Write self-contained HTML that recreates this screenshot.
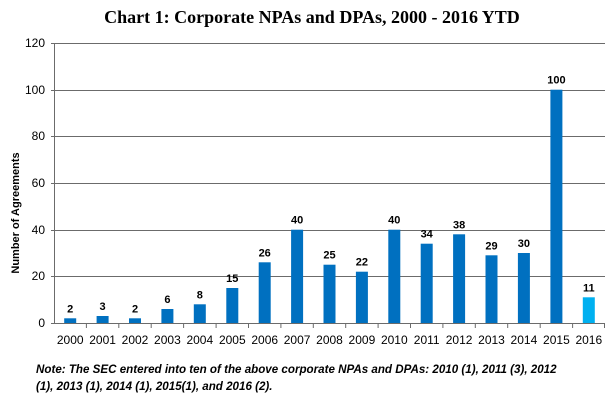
<!DOCTYPE html>
<html><head><meta charset="utf-8"><style>
body{margin:0;background:#fff;width:613px;height:405px;overflow:hidden}
</style></head><body>
<svg width="613" height="405" xmlns="http://www.w3.org/2000/svg" font-family="Liberation Sans, sans-serif">
<text x="312" y="23" text-anchor="middle" font-family="Liberation Serif, serif" font-weight="bold" font-size="18">Chart 1: Corporate NPAs and DPAs, 2000 - 2016 YTD</text>
<g stroke="#6b6b6b" stroke-width="1">
<line x1="51" y1="43.5" x2="605" y2="43.5"/>
<line x1="51" y1="90.5" x2="605" y2="90.5"/>
<line x1="51" y1="136.5" x2="605" y2="136.5"/>
<line x1="51" y1="183.5" x2="605" y2="183.5"/>
<line x1="51" y1="230.5" x2="605" y2="230.5"/>
<line x1="51" y1="276.5" x2="605" y2="276.5"/>
<line x1="51" y1="323.5" x2="605" y2="323.5"/>
<line x1="54.5" y1="43" x2="54.5" y2="323"/>
<path d="M86.4 323v5M118.8 323v5M151.2 323v5M183.6 323v5M216.1 323v5M248.5 323v5M280.9 323v5M313.3 323v5M345.7 323v5M378.1 323v5M410.5 323v5M442.9 323v5M475.3 323v5M507.7 323v5M540.2 323v5M572.6 323v5M604.5 323v5"/>
</g>
<g font-size="12" text-anchor="end" fill="#000">
<text x="45" y="47">120</text><text x="45" y="94">100</text><text x="45" y="140">80</text>
<text x="45" y="187">60</text><text x="45" y="234">40</text><text x="45" y="280">20</text><text x="45" y="327">0</text>
</g>
<text transform="translate(19,213) rotate(-90)" text-anchor="middle" font-size="11" font-weight="bold">Number of Agreements</text>
<g fill="#0070C0">
<rect x="64.2" y="318.3" width="12" height="4.7"/>
<rect x="96.6" y="316" width="12" height="7"/>
<rect x="129" y="318.3" width="12" height="4.7"/>
<rect x="161.4" y="309" width="12" height="14"/>
<rect x="193.8" y="304.3" width="12" height="18.7"/>
<rect x="226.3" y="288" width="12" height="35"/>
<rect x="258.7" y="262.3" width="12" height="60.7"/>
<rect x="291.1" y="229.7" width="12" height="93.3"/>
<rect x="323.5" y="264.7" width="12" height="58.3"/>
<rect x="355.9" y="271.7" width="12" height="51.3"/>
<rect x="388.3" y="229.7" width="12" height="93.3"/>
<rect x="420.7" y="243.7" width="12" height="79.3"/>
<rect x="453.1" y="234.3" width="12" height="88.7"/>
<rect x="485.5" y="255.3" width="12" height="67.7"/>
<rect x="517.9" y="253" width="12" height="70"/>
<rect x="550.4" y="89.7" width="12" height="233.3"/>
<rect x="582.8" y="297.3" width="12" height="25.7" fill="#00B0F0"/>
</g>
<g font-size="11" font-weight="bold" text-anchor="middle">
<text x="70.2" y="312.3">2</text><text x="102.6" y="310">3</text><text x="135" y="312.3">2</text>
<text x="167.4" y="303">6</text><text x="199.8" y="298.3">8</text><text x="232.3" y="282">15</text>
<text x="264.7" y="256.3">26</text><text x="297.1" y="223.7">40</text><text x="329.5" y="258.7">25</text>
<text x="361.9" y="265.7">22</text><text x="394.3" y="223.7">40</text><text x="426.7" y="237.7">34</text>
<text x="459.1" y="228.3">38</text><text x="491.5" y="249.3">29</text><text x="523.9" y="247">30</text>
<text x="556.4" y="83.7">100</text><text x="588.8" y="291.3">11</text>
</g>
<g font-size="12" text-anchor="middle">
<text x="70.2" y="344">2000</text><text x="102.6" y="344">2001</text><text x="135" y="344">2002</text>
<text x="167.4" y="344">2003</text><text x="199.8" y="344">2004</text><text x="232.3" y="344">2005</text>
<text x="264.7" y="344">2006</text><text x="297.1" y="344">2007</text><text x="329.5" y="344">2008</text>
<text x="361.9" y="344">2009</text><text x="394.3" y="344">2010</text><text x="426.7" y="344">2011</text>
<text x="459.1" y="344">2012</text><text x="491.5" y="344">2013</text><text x="523.9" y="344">2014</text>
<text x="556.4" y="344">2015</text><text x="588.8" y="344">2016</text>
</g>
<g font-size="11.6" font-weight="bold" font-style="italic">
<text x="36" y="373">Note: The SEC entered into ten of the above corporate NPAs and DPAs: 2010 (1), 2011 (3), 2012</text>
<text x="36" y="390">(1), 2013 (1), 2014 (1), 2015(1), and 2016 (2).</text>
</g>
</svg>
</body></html>
